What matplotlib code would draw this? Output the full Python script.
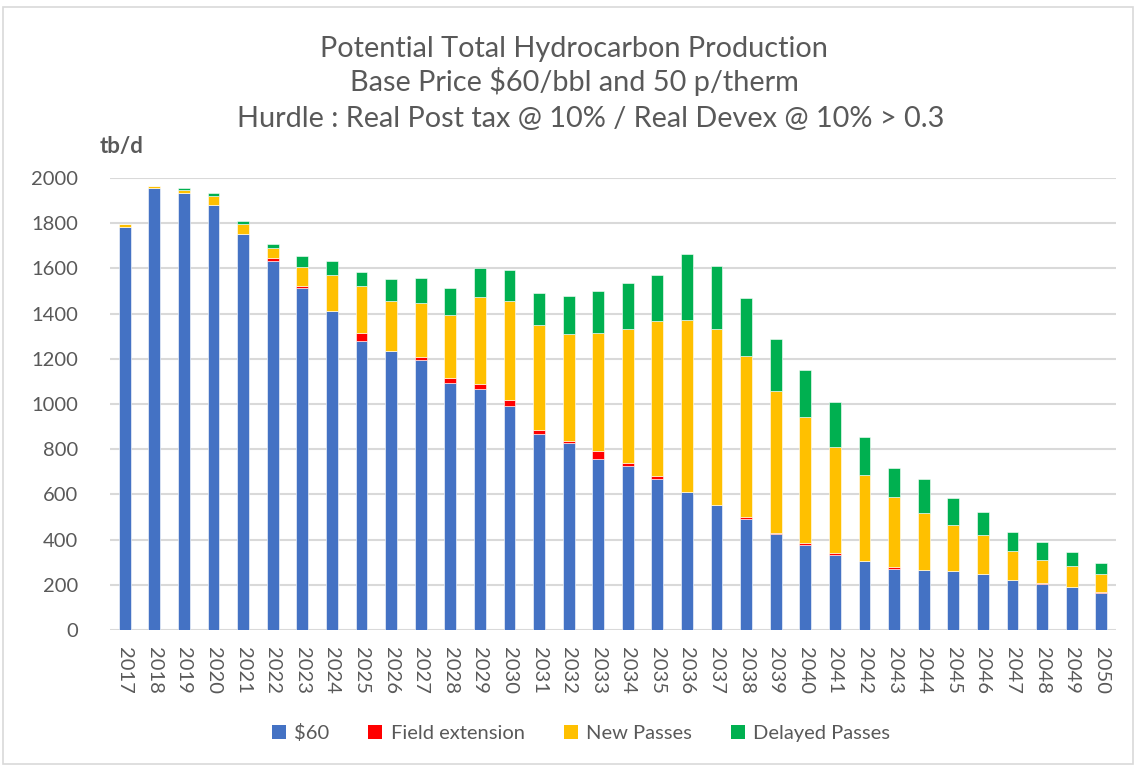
import matplotlib
matplotlib.use("Agg")
import matplotlib.pyplot as plt
from matplotlib.patches import Rectangle, Patch
import numpy as np

years = [str(y) for y in range(2017, 2051)]

base_60 = [1785, 1956, 1932, 1882, 1752, 1633, 1513, 1412, 1280, 1236,
           1196, 1093, 1065, 993, 866, 827, 758, 726, 668, 611,
           554, 493, 425, 378, 333, 305, 271, 264, 260, 249,
           220, 202, 192, 164]
field_ext = [0, 0, 0, 0, 0, 13, 9, 0, 36, 0,
             12, 23, 22, 26, 19, 11, 35, 12, 12, 0,
             0, 7, 4, 6, 8, 0, 6, 0, 0, 0,
             0, 7, 0, 6]
new_passes = [13, 7, 16, 40, 46, 43, 83, 158, 207, 220,
              238, 278, 385, 437, 463, 470, 521, 594, 686, 761,
              778, 712, 630, 557, 469, 379, 311, 255, 205, 170,
              131, 102, 90, 78]
delayed_passes = [0, 0, 8, 10, 10, 19, 50, 63, 62, 96,
                  113, 118, 131, 135, 142, 170, 187, 203, 203, 293,
                  277, 256, 227, 208, 197, 171, 130, 149, 118, 102,
                  84, 78, 62, 47]

series = [
    ("$60", base_60, "#4472C4"),
    ("Field extension", field_ext, "#FF0000"),
    ("New Passes", new_passes, "#FFC000"),
    ("Delayed Passes", delayed_passes, "#00B050"),
]

TXT = "#595959"
FONT = ["Lato", "DejaVu Sans"]
plt.rcParams["font.family"] = FONT

fig = plt.figure(figsize=(11.37, 7.67), dpi=100)
W, H = 1137, 767
ax = fig.add_axes([110 / W, 1 - 630 / H, (1116 - 110) / W, (630 - 178) / H])

x = np.arange(len(years))
bottom = np.zeros(len(years))
for name, vals, col in series:
    v = np.array(vals, dtype=float)
    ax.bar(x, v, width=0.4, bottom=bottom, color=col, edgecolor="white",
           linewidth=0.4, label=name, zorder=3)
    bottom += v

ax.set_xlim(-0.5, len(years) - 0.5)
ax.set_ylim(0, 2000)
ax.set_yticks(np.arange(0, 2001, 200))
ax.set_xticks(x)
ax.set_xticklabels(years, rotation=-90, fontsize=14.5, color=TXT)
ax.tick_params(axis="y", labelsize=14.5, labelcolor=TXT, length=0, pad=23)
ax.tick_params(axis="x", length=0, pad=12)
ax.grid(axis="y", color="#D9D9D9", linewidth=1.5, zorder=0)
ax.set_axisbelow(True)
for s in ax.spines.values():
    s.set_visible(False)

fig.text(574 / W, 1 - 57 / H, "Potential Total Hydrocarbon Production",
         ha="center", va="baseline", fontsize=20.8, color=TXT)
fig.text(574 / W, 1 - 91.5 / H, "Base Price $60/bbl and 50 p/therm",
         ha="center", va="baseline", fontsize=20.8, color=TXT)
fig.text(591 / W, 1 - 126.5 / H, "Hurdle : Real Post tax @ 10% / Real Devex @ 10% > 0.3",
         ha="center", va="baseline", fontsize=20.8, color=TXT)
fig.text(100 / W, 1 - 153 / H, "tb/d", ha="left", va="baseline",
         fontsize=16, fontweight="bold", color=TXT)

handles = [Patch(facecolor=c, edgecolor="none") for _, _, c in series]
labels = [n for n, _, _ in series]
fig.legend(handles, labels, loc="center", bbox_to_anchor=(581 / W, 1 - 733 / H),
           ncol=4, frameon=False, fontsize=14.5, labelcolor=TXT,
           handlelength=0.7, handleheight=0.7, handletextpad=0.4,
           columnspacing=1.95)

fig.patches.append(Rectangle((3 / W, 3 / H), 1 - 7 / W, 1 - 10 / H,
                             transform=fig.transFigure, fill=False,
                             edgecolor="#D9D9D9", linewidth=1.2))

fig.savefig("out.png", dpi=100)
